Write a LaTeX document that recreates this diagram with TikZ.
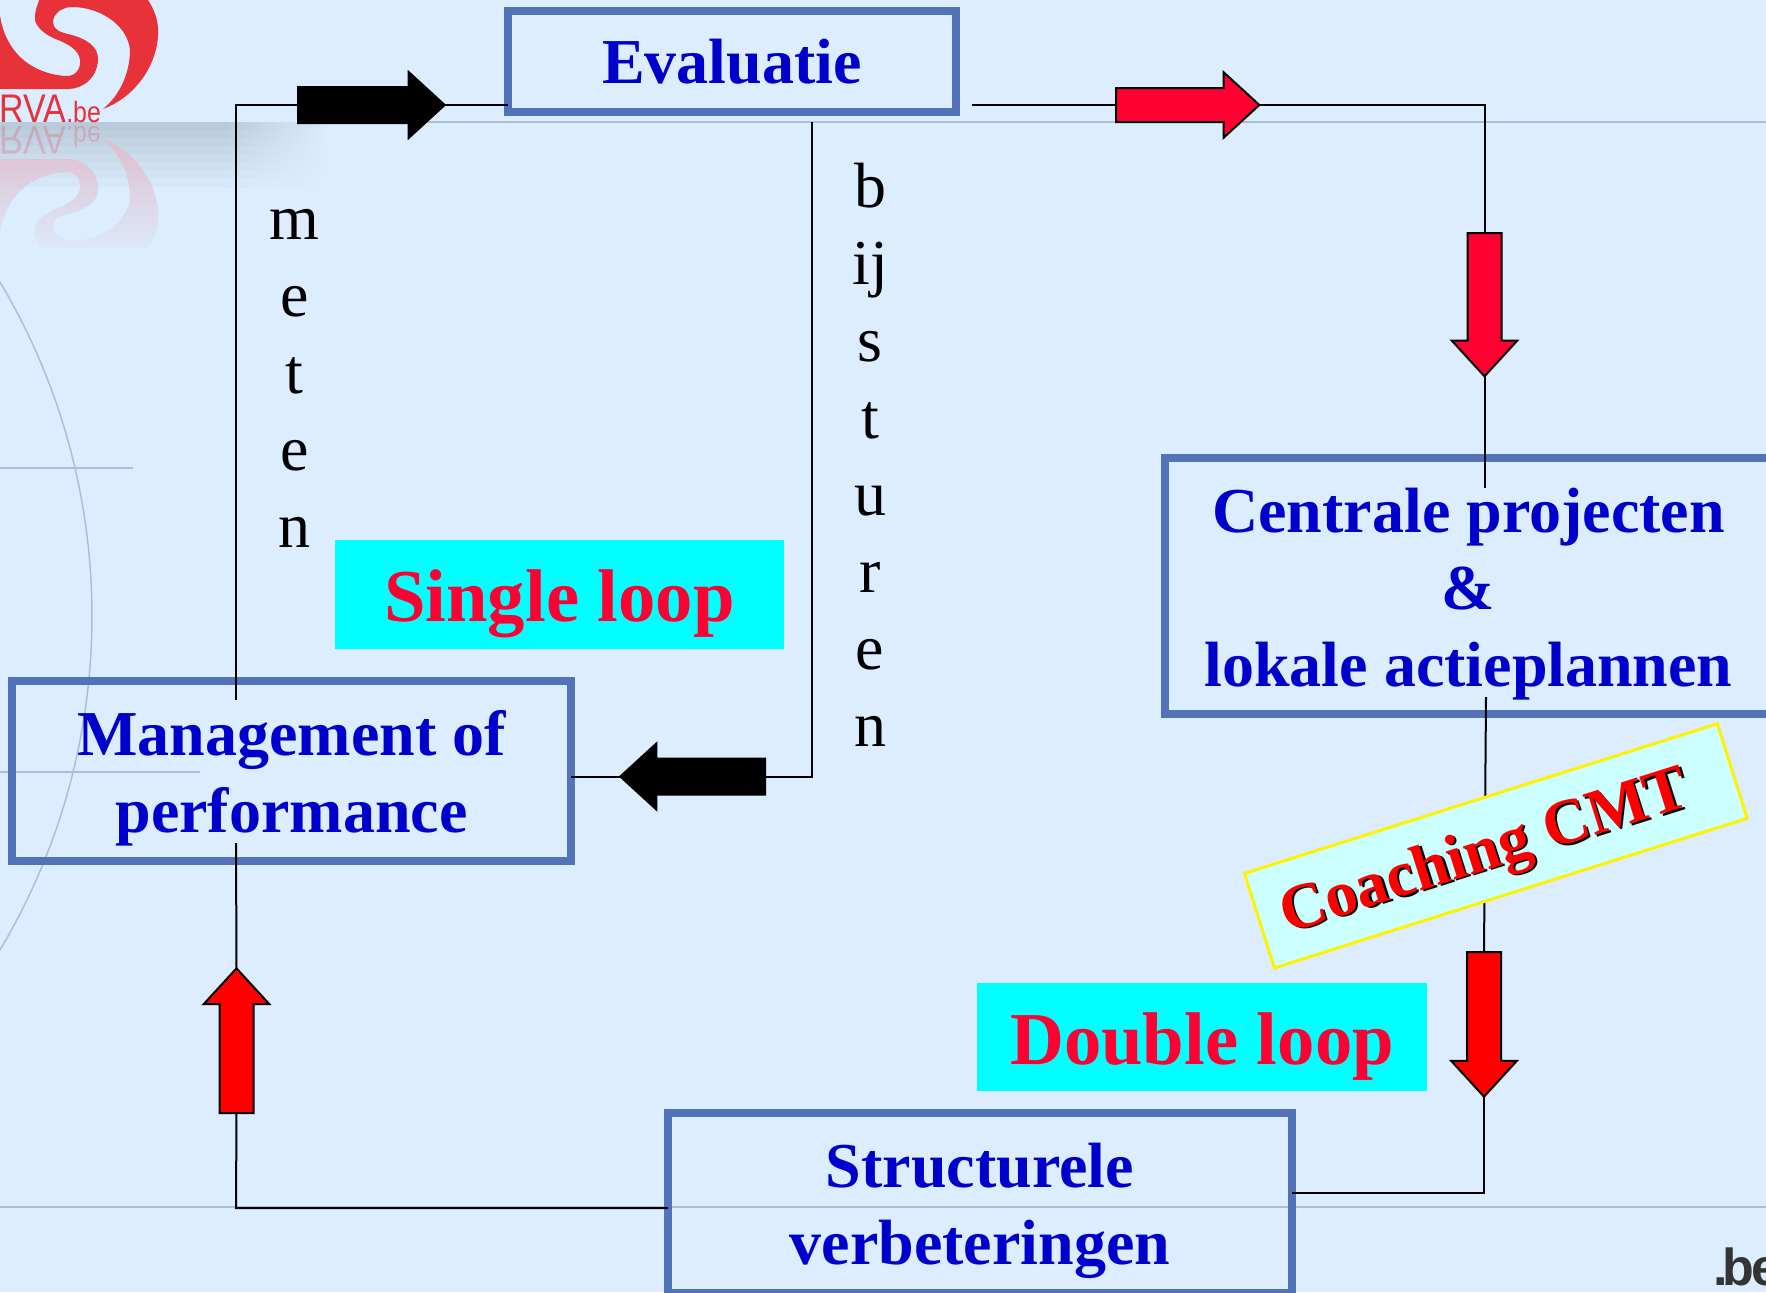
\documentclass[tikz,border=0pt]{standalone}
\usepackage{fontspec}
\setmainfont{Liberation Serif}
\newfontfamily\logofont[FakeStretch=0.85]{Liberation Sans}
\newfontfamily\befont{Liberation Sans}
\usetikzlibrary{shapes.arrows,calc}

\definecolor{bgblue}{HTML}{DCEDFF}
\definecolor{rulegrey}{HTML}{AEBDD6}
\definecolor{rvashadow}{HTML}{B9CADB}
\definecolor{rvared}{HTML}{E63238}
\definecolor{boxblue}{HTML}{5273B8}
\definecolor{textblue}{HTML}{0000CC}
\definecolor{loopred}{HTML}{FF0033}
\definecolor{loopcyan}{HTML}{00FFFF}
\definecolor{coachfill}{HTML}{CCFFFF}
\definecolor{arrowred}{HTML}{FF0000}

\tikzset{every picture/.style={line width=0.75pt}}
\tikzset{
  flowbox/.style={draw=boxblue,line width=6pt,text=textblue,align=center,inner sep=0pt,outer sep=0pt,
    font=\fontsize{48}{57.75}\selectfont\bfseries},
  loopbox/.style={fill=loopcyan,text=loopred,inner sep=0pt,minimum width=337pt,text height=41.2pt,text depth=0pt,
    font=\fontsize{56}{60}\selectfont\bfseries},
  stacklabel/.style={align=center,inner sep=0pt,font=\fontsize{48}{57.75}\selectfont},
  flowarrow/.style={single arrow,single arrow tip angle=85,single arrow head extend=11.85pt,anchor=tail,
    inner xsep=0pt,inner ysep=12pt,outer sep=0pt,draw=black,line width=1.5pt},
  blackarrow/.style={flowarrow,fill=black,inner ysep=12.75pt,single arrow head extend=11.2pt},
  redarrow/.style={flowarrow,fill=arrowred},
  pinkarrow/.style={flowarrow,fill=loopred},
  flowline/.style={line width=1.5pt,line join=miter},
  backline/.style={rulegrey,line width=1.1pt}
}
\newcommand{\rvaswirl}{(39.3,0) -- (148,0) .. controls (156,12) and (159,24) .. (158,36) .. controls (157,60) and (140,95) .. (103,109) .. controls (118,97) and (130,75) .. (130,50) .. controls (128,28) and (105,9) .. (75,7) .. controls (62,6) and (53,14) .. (53,22) .. controls (53,29) and (59,32) .. (68,34) .. controls (85,38) and (99,46) .. (98,60) .. controls (97,78) and (83,89) .. (68,89) -- (0,89) -- (0,15) .. controls (3,40) and (20,72) .. (65,76) .. controls (76,77) and (81,68) .. (80,60) .. controls (79,50) and (68,44) .. (58,40) .. controls (42,34) and (33,24) .. (35,15) .. controls (36,8) and (38,3) .. (39.3,0) -- cycle}
\newcommand{\boxtop}{\rule{0pt}{45pt}}

\begin{document}
\begin{tikzpicture}[x=0.75pt,y=0.75pt,yscale=-1,xscale=1]
\path[use as bounding box,clip] (0,0) rectangle (1766,1292);
\fill[bgblue] (0,0) rectangle (1766,1292);

%Background rules
\draw[backline] (300,122) -- (1766,122);
\draw[backline] (0,1207) -- (1766,1207);
\draw[backline] (0,468) -- (133,468);
\draw[backline] (0,772) -- (200,772);
\draw[backline] (-560,616) ++(-31:652) arc[start angle=-31,end angle=31,radius=652];

%Logo shadow
\foreach \k in {0,...,7}{
  \pgfmathtruncatemacro\shadepct{100-12*\k}
  \pgfmathsetmacro\stripy{122+8*\k}
  \fill[rvashadow!\shadepct!bgblue] (0,\stripy) rectangle (225,\stripy+9);
  \shade[left color=rvashadow!\shadepct!bgblue,right color=bgblue] (225,\stripy) rectangle (330,\stripy+9);
}

%Logo
\fill[rvared] \rvaswirl;
\node (rvatext) [anchor=base west,inner sep=0pt,text=rvared] at (-1,122) {\logofont\fontsize{30}{30}\selectfont RVA\fontsize{22}{22}\selectfont.be};

%Logo reflection
\foreach \k in {0,...,12}{
  \pgfmathsetmacro\stripy{134+9*\k}
  \pgfmathtruncatemacro\strippct{26-1.9*\k}
  \begin{scope}
    \clip (0,\stripy) rectangle (200,\stripy+10);
    \begin{scope}[shift={(0,248)},yscale=-1]
      \fill[rvared!\strippct!bgblue] \rvaswirl;
    \end{scope}
  \end{scope}
}
\node (rvamirror) [anchor=base west,inner sep=0pt,text=rvared,opacity=0.22,transform shape] at (-1,126) {\logofont\fontsize{30}{30}\selectfont RVA\fontsize{22}{22}\selectfont.be};

% Text Node
\node (evaluatie) [flowbox,minimum width=336pt,minimum height=75.75pt] at (732,61) {\rule{0pt}{35pt}Evaluatie};
\node (centrale) [flowbox,minimum width=455.25pt,minimum height=192pt] at (1468.5,586) {\boxtop Centrale projecten\\\&\\lokale actieplannen};
\node (management) [flowbox,minimum width=419.5pt,minimum height=135pt] at (291.5,771) {\boxtop Management of\\performance};
\node (structurele) [flowbox,minimum width=468pt,minimum height=135pt] at (980,1203) {\boxtop Structurele\\verbeteringen};
\node (singleloop) [loopbox,minimum height=82pt] at (559.5,594.5) {Single loop};
\node (doubleloop) [loopbox,minimum height=81pt] at (1202,1037) {Double loop};
\node (meten) [stacklabel] at (294.5,378.5) {m\\e\\t\\e\\n};
\node (bijsturen) [stacklabel] at (870,454.5) {b\\ij\\s\\t\\u\\r\\e\\n};

%Shape: Arrow
\node (meetarrow) [blackarrow,minimum height=110pt] at (298,105) {};
\node (stuurarrow) [blackarrow,minimum height=108.5pt,rotate=180] at (765,776.5) {};
\node (evalarrow) [pinkarrow,minimum height=107.5pt] at (1116,105) {};
\node (centralearrow) [pinkarrow,minimum height=107.5pt,rotate=-90] at (1484.5,233) {};
\node (coacharrow) [redarrow,minimum height=108.5pt,rotate=-90] at (1484,952) {};
\node (structarrow) [redarrow,minimum height=108.5pt,rotate=90] at (236.5,1113) {};

%Straight Lines
\coordinate (meetcorner) at (236,105);
\coordinate (mgmttop) at (236,700);
\coordinate (mgmtbottom) at (236,843);
\coordinate (evalright) at (972,105);
\coordinate (evalcorner) at (1484.5,105);
\coordinate (centraletop) at (1484.5,488);
\coordinate (centralebottom) at (1486,697);
\coordinate (structcorner) at (1484,1193);
\coordinate (leftcorner) at (236,1208);
\coordinate (stuurtop) at (812,122);
\coordinate (stuurcorner) at (812,776.5);
\draw[flowline] (mgmttop) -- (meetcorner) -- (meetarrow.tail);
\draw[flowline] (meetarrow.tip) -- (evaluatie.west |- meetcorner);
\draw[flowline] (evalright) -- (evalarrow.tail);
\draw[flowline] (evalarrow.tip) -- (evalcorner) -- (centralearrow.tail);
\draw[flowline] (centralearrow.tip) -- (centraletop);
\draw[flowline] (centralebottom) -- (coacharrow.tail);
\draw[flowline] (coacharrow.tip) -- (structcorner) -- (structurele.east |- structcorner);
\draw[flowline] (structurele.west |- leftcorner) -- (leftcorner) -- (structarrow.tail);
\draw[flowline] (structarrow.tip) -- (mgmtbottom);
\draw[flowline] (stuurtop) -- (stuurcorner) -- (stuurarrow.tail);
\draw[flowline] (stuurarrow.tip) -- (management.east |- stuurcorner);

%Shape: Rectangle
\node (coaching) [draw=yellow,fill=coachfill,line width=2.25pt,rotate=17.56,minimum width=372pt,minimum height=74.4pt,inner sep=0pt,text=red,
  font=\fontsize{48}{50}\selectfont\bfseries] at (1495.85,845.85) {\rule{0pt}{42.4pt}\rlap{\kern1.5pt\raisebox{-1.5pt}{\textcolor{black}{Coaching CMT}}}Coaching CMT\kern19pt};

% Text Node
\node (bedomain) [anchor=base west,inner sep=0pt,text=black!80] at (1713,1285) {\befont\bfseries\fontsize{39}{39}\selectfont.\kern-4pt b\kern-2pt e};

\end{tikzpicture}
\end{document}
